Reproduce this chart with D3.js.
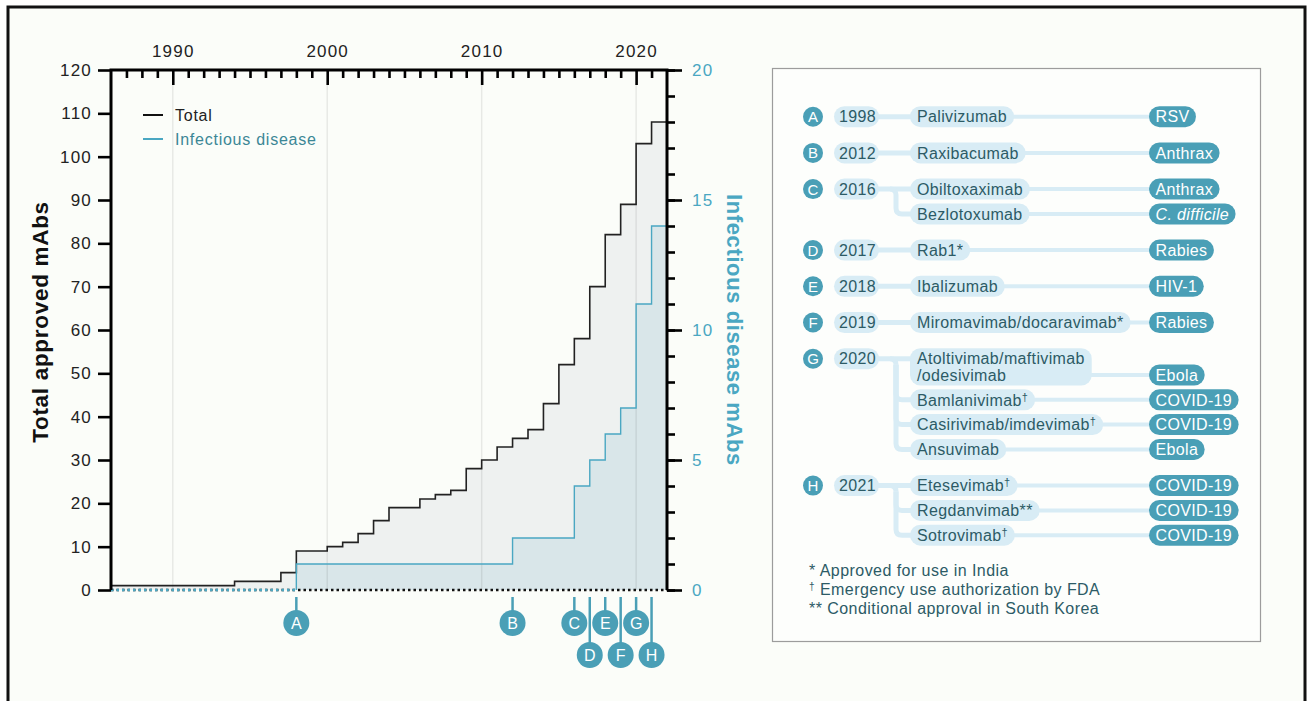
<!DOCTYPE html>
<html>
<head>
<meta charset="utf-8">
<script src="https://cdn.jsdelivr.net/npm/d3@7"></script>
<style>
  body { margin: 0; background: #fff; }
  svg { display: block; font-family: "Liberation Sans", Arial, Helvetica, sans-serif; }
</style>
</head>
<body>
<svg id="chart" width="1312" height="701"></svg>
<script>
// cumulative approved mAbs (step changes)
const totalYears = [1986, 1994, 1997, 1998, 2000, 2001, 2002, 2003, 2004, 2006, 2007, 2008, 2009,
  2010, 2011, 2012, 2013, 2014, 2015, 2016, 2017, 2018, 2019, 2020, 2021];
const totalCounts = [1, 2, 4, 9, 10, 11, 13, 16, 19, 21, 22, 23, 28,
  30, 33, 35, 37, 43, 52, 58, 70, 82, 89, 103, 108];

const infYears = [1986, 1998, 2012, 2016, 2017, 2018, 2019, 2020, 2021];
const infCounts = [0, 1, 2, 4, 5, 6, 7, 11, 14];

const decadeTicks = [1990, 2000, 2010, 2020];
const leftTicks = [0, 10, 20, 30, 40, 50, 60, 70, 80, 90, 100, 110, 120];
const rightTicks = [0, 5, 10, 15, 20];

// approvals table
const markLetters = ["A", "B", "C", "D", "E", "F", "G", "H"];
const markYears = [1998, 2012, 2016, 2017, 2018, 2019, 2020, 2021];
const drugNames = [
  ["Palivizumab"],
  ["Raxibacumab"],
  ["Obiltoxaximab", "Bezlotoxumab"],
  ["Rab1*"],
  ["Ibalizumab"],
  ["Miromavimab/docaravimab*"],
  ["Atoltivimab/maftivimab\n/odesivimab", "Bamlanivimab†", "Casirivimab/imdevimab†", "Ansuvimab"],
  ["Etesevimab†", "Regdanvimab**", "Sotrovimab†"]
];
const drugTargets = [
  ["RSV"],
  ["Anthrax"],
  ["Anthrax", "C. difficile"],
  ["Rabies"],
  ["HIV-1"],
  ["Rabies"],
  ["Ebola", "COVID-19", "COVID-19", "Ebola"],
  ["COVID-19", "COVID-19", "COVID-19"]
];
const footnotes = ["* Approved for use in India", "† Emergency use authorization by FDA", "** Conditional approval in South Korea"];

const BLUE = "#4aa7c2";
const TEAL = "#4a9fb6";
const DARK = "#2c5b66";
const PILL = "#d8ecf5";

const svg = d3.select("#chart");

// frame
svg.append("rect").attr("x", 8).attr("y", 7).attr("width", 1297).attr("height", 720)
  .attr("fill", "#fbfdf9").attr("stroke", "#111").attr("stroke-width", 3);

const x = d3.scaleLinear().domain([1986, 2022]).range([111, 667]);
const yL = d3.scaleLinear().domain([0, 120]).range([590, 70]);
const yR = d3.scaleLinear().domain([0, 20]).range([590, 70]);
const xEnd = x.domain()[1];

const totalPts = totalYears.map((yr, i) => [yr, totalCounts[i]]);
totalPts.push([xEnd, totalCounts[totalCounts.length - 1]]);
const infPts = infYears.map((yr, i) => [yr, infCounts[i]]).slice(1);
infPts.unshift([infYears[1], 0]);
infPts.push([xEnd, infCounts[infCounts.length - 1]]);

const plot = svg.append("g");

plot.append("path")
  .attr("d", d3.area().x(d => x(d[0])).y0(yL(0)).y1(d => yL(d[1])).curve(d3.curveStepAfter)(totalPts))
  .attr("fill", "#eef1f0");
plot.append("path")
  .attr("d", d3.area().x(d => x(d[0])).y0(yR(0)).y1(d => yR(d[1])).curve(d3.curveStepAfter)(infPts))
  .attr("fill", "#d9e6e9");

// decade gridlines
plot.selectAll(".grid").data(decadeTicks).join("line")
  .attr("x1", d => x(d)).attr("x2", d => x(d))
  .attr("y1", yL(120)).attr("y2", yL(0))
  .attr("stroke", "#000").attr("stroke-opacity", 0.08).attr("stroke-width", 1.5);

// dotted zero line
plot.append("line").attr("x1", x(1986)).attr("x2", x(xEnd))
  .attr("y1", yL(0)).attr("y2", yL(0))
  .attr("stroke", "#111").attr("stroke-width", 2.5).attr("stroke-dasharray", "2.5,3");
plot.append("line").attr("x1", x(1986)).attr("x2", x(infYears[1]))
  .attr("y1", yR(0)).attr("y2", yR(0))
  .attr("stroke", BLUE).attr("stroke-width", 2.5).attr("stroke-dasharray", "2.5,3");

plot.append("path")
  .attr("d", d3.line().x(d => x(d[0])).y(d => yL(d[1])).curve(d3.curveStepAfter)(totalPts))
  .attr("fill", "none").attr("stroke", "#222").attr("stroke-width", 1.6);
plot.append("path")
  .attr("d", d3.line().x(d => x(d[0])).y(d => yR(d[1])).curve(d3.curveStepAfter)(infPts))
  .attr("fill", "none").attr("stroke", BLUE).attr("stroke-width", 1.4);

// axes
const styleAxis = (g, color) => {
  g.select(".domain").remove();
  g.selectAll("line").attr("stroke", "#000").attr("stroke-width", 2.6);
  g.selectAll("text").attr("fill", color).style("font-size", "17px").style("letter-spacing", "1.2px");
};

svg.append("g").attr("transform", `translate(0,${yL(120)})`)
  .call(d3.axisTop(x).tickValues(d3.range(1987, 2022).filter(v => v % 10 !== 0)).tickSize(-8).tickFormat(""))
  .call(g => styleAxis(g, "#222"));
svg.append("g").attr("transform", `translate(0,${yL(120)})`)
  .call(d3.axisTop(x).tickValues(decadeTicks).tickSize(-15).tickPadding(13).tickFormat(d3.format("d")))
  .call(g => styleAxis(g, "#222"));

svg.append("g").attr("transform", `translate(${x(1986)},0)`)
  .call(d3.axisLeft(yL).tickValues(leftTicks).tickSize(13).tickPadding(6))
  .call(g => styleAxis(g, "#222"));

svg.append("g").attr("transform", `translate(${x(xEnd)},0)`)
  .call(d3.axisRight(yR).ticks(20).tickSize(8).tickFormat(""))
  .call(g => styleAxis(g, BLUE));
svg.append("g").attr("transform", `translate(${x(xEnd)},0)`)
  .call(d3.axisRight(yR).tickValues(rightTicks).tickSize(15).tickPadding(10))
  .call(g => styleAxis(g, BLUE));

// axis lines
svg.append("path")
  .attr("d", `M${x(1986)},${yL(0)}V${yL(120)}H${x(xEnd)}V${yL(0)}`)
  .attr("fill", "none").attr("stroke", "#000").attr("stroke-width", 3);

// axis titles
svg.append("text").attr("transform", "translate(48,322) rotate(-90)")
  .attr("text-anchor", "middle").attr("fill", "#111")
  .style("font-size", "22.5px").style("font-weight", "bold").style("letter-spacing", "0.7px")
  .text("Total approved mAbs");
svg.append("text").attr("transform", "translate(727,330) rotate(90)")
  .attr("text-anchor", "middle").attr("fill", BLUE)
  .style("font-size", "22px").style("font-weight", "bold").style("letter-spacing", "0.6px")
  .text("Infectious disease mAbs");

// legend
const legend = svg.append("g").attr("transform", "translate(143,115)");
[["Total", "#111", "#222"], ["Infectious disease", BLUE, "#3b8796"]].forEach((d, i) => {
  legend.append("line").attr("x1", 0).attr("x2", 20).attr("y1", i * 24).attr("y2", i * 24)
    .attr("stroke", d[1]).attr("stroke-width", 2);
  legend.append("text").attr("x", 32).attr("y", i * 24).attr("dy", "0.35em")
    .attr("fill", d[2]).style("font-size", "16px").style("letter-spacing", "0.75px").text(d[0]);
});

// letter markers under the x axis
const markers = svg.append("g");
let prevX = -Infinity, prevLow = true;
markYears.forEach((yr, i) => {
  const px = x(yr);
  const low = (px - prevX < 28) && !prevLow;
  prevX = px; prevLow = low;
  const cy = low ? 655 : 623;
  markers.append("line").attr("x1", px).attr("x2", px).attr("y1", 597).attr("y2", cy)
    .attr("stroke", TEAL).attr("stroke-width", 2.5);
  markers.append("circle").attr("cx", px).attr("cy", cy).attr("r", 13).attr("fill", TEAL);
  markers.append("text").attr("x", px).attr("y", cy).attr("dy", "0.36em")
    .attr("text-anchor", "middle").attr("fill", "#fff").style("font-size", "16px")
    .text(markLetters[i]);
});

// right panel
svg.append("rect").attr("x", 772.5).attr("y", 68.5).attr("width", 488).attr("height", 573)
  .attr("fill", "#fdfefc").attr("stroke", "#9c9c9c").attr("stroke-width", 1.2);

const L = { circleX: 813, yearX: 834, yearW: 45, branchX: 896, drugX: 910, targetX: 1149,
  lineGap: 24.8, groupGap: 36.2, wrapGap: 16.3, pillH: 21 };
const links = svg.append("g");
const pills = svg.append("g");

function addLabel(g, str, px, py, color, italic) {
  const t = g.append("text").attr("x", px).attr("y", py).attr("dy", "0.36em")
    .attr("fill", color).style("font-size", "16px").style("letter-spacing", "0.35px");
  if (italic) t.style("font-style", "italic");
  const m = str.match(/^(.*?)(†)?$/);
  t.append("tspan").text(m[1]);
  if (m[2]) t.append("tspan").attr("dy", -5).style("font-size", "11px").text(m[2]);
  return t.node().getComputedTextLength();
}

let yc = 116.7;
markLetters.forEach((letter, gi) => {
  const rowYs = [], targetYs = [];
  drugNames[gi].forEach((name, di) => {
    rowYs.push(yc);
    yc += (name.split("\n").length - 1) * L.wrapGap;
    targetYs.push(yc);
    yc += di < drugNames[gi].length - 1 ? L.lineGap : L.groupGap;
  });
  const y0 = rowYs[0];
  const yearRight = L.yearX + L.yearW;
  const bx = L.branchX, r = 6;

  // connectors
  const lk = (d, w) => links.append("path").attr("d", d).attr("fill", "none")
    .attr("stroke", PILL).attr("stroke-width", w);
  lk(`M${yearRight - 10},${y0}H${L.drugX + 10}`, 5);
  rowYs.forEach((ry, di) => {
    if (di > 0) lk(`M${bx},${y0 + r}V${ry - r}Q${bx},${ry} ${bx + r},${ry}H${L.drugX + 10}`, 5);
    lk(`M${L.drugX + 10},${targetYs[di]}H${L.targetX + 10}`, 4);
  });
  if (rowYs.length > 1) lk(`M${bx - r},${y0}Q${bx},${y0} ${bx},${y0 + r}`, 5);

  // letter + year
  pills.append("circle").attr("cx", L.circleX).attr("cy", y0).attr("r", 10).attr("fill", TEAL);
  pills.append("text").attr("x", L.circleX).attr("y", y0).attr("dy", "0.36em")
    .attr("text-anchor", "middle").attr("fill", "#fff").style("font-size", "15px").text(letter);
  pills.append("rect").attr("x", L.yearX).attr("y", y0 - L.pillH / 2)
    .attr("width", L.yearW).attr("height", L.pillH).attr("rx", L.pillH / 2).attr("fill", PILL);
  addLabel(pills, String(markYears[gi]), L.yearX + 5, y0, DARK, false);

  // drugs and targets
  drugNames[gi].forEach((name, di) => {
    const ry = rowYs[di], ty = targetYs[di];
    const bg = pills.append("rect").attr("fill", PILL);
    const w = d3.max(name.split("\n").map((ln, li) =>
      addLabel(pills, ln, L.drugX + 7, ry + li * L.wrapGap, DARK, false)));
    bg.attr("x", L.drugX).attr("y", ry - L.pillH / 2).attr("width", w + 14)
      .attr("height", ty - ry + L.pillH).attr("rx", L.pillH / 2);

    const tname = drugTargets[gi][di];
    const tbg = pills.append("rect").attr("fill", TEAL);
    const tw = addLabel(pills, tname, L.targetX + 6.5, ty, "#fff", tname === "C. difficile");
    tbg.attr("x", L.targetX).attr("y", ty - L.pillH / 2).attr("width", tw + 13)
      .attr("height", L.pillH).attr("rx", L.pillH / 2);
  });
});

// footnotes
footnotes.forEach((f, i) => {
  const t = svg.append("text").attr("x", 809).attr("y", 575.5 + i * 19)
    .attr("fill", DARK).style("font-size", "16px").style("letter-spacing", "0.45px");
  if (f.startsWith("†")) {
    t.append("tspan").attr("dy", -5).style("font-size", "10px").text("†");
    t.append("tspan").attr("dy", 5).text(f.slice(1));
  } else {
    t.text(f);
  }
});
</script>
</body>
</html>
